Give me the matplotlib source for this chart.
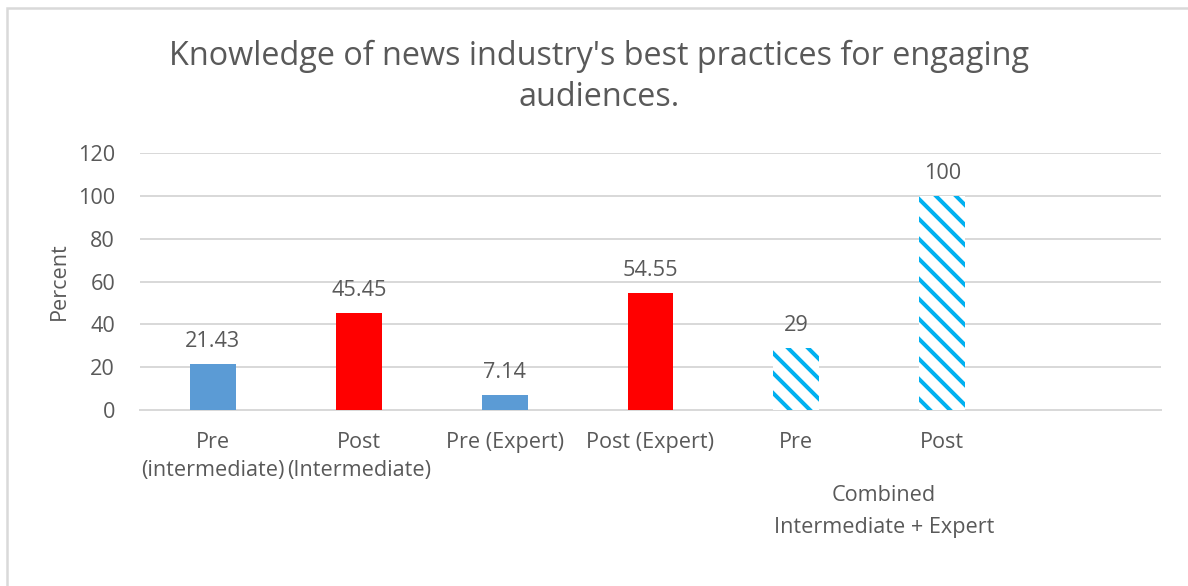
import matplotlib.pyplot as plt
from matplotlib.patches import Rectangle

plt.rcParams['font.family'] = ['Open Sans', 'DejaVu Sans']
plt.rcParams['hatch.linewidth'] = 2.4

# chart data
categories = ['Pre\n(intermediate)', 'Post\n(Intermediate)', 'Pre (Expert)',
              'Post (Expert)', 'Pre', 'Post', '']
values = [21.43, 45.45, 7.14, 54.55, 29, 100]
labels = ['21.43', '45.45', '7.14', '54.55', '29', '100']
group_label = 'Combined\nIntermediate + Expert'

blue = '#5B9BD5'
red = '#FF0000'
cyan = '#00B0F0'
text_col = '#595959'
grid_col = '#D9D9D9'
fs = 13

fig = plt.figure(figsize=(9.9, 586 / 120), dpi=120)
ax = fig.add_axes([140 / 1188, 1 - 410 / 586, 1021 / 1188, 257 / 586])

x = list(range(len(categories)))
w = 0.315
# solid bars
ax.bar(x[0], values[0], w, color=blue, zorder=3)
ax.bar(x[1], values[1], w, color=red, zorder=3)
ax.bar(x[2], values[2], w, color=blue, zorder=3)
ax.bar(x[3], values[3], w, color=red, zorder=3)
# hatched combined bars
for i in (4, 5):
    ax.bar(x[i], values[i], w, color='white', edgecolor=cyan, hatch='\\\\',
           linewidth=0, zorder=3)

for i, v in enumerate(values):
    ax.text(x[i], v + 5.5, labels[i], ha='center', va='bottom',
            fontsize=fs, color=text_col)

ax.set_xlim(-0.5, len(categories) - 0.5)
ax.set_ylim(0, 120)
ax.set_yticks(range(0, 121, 20))
ax.set_xticks(x)
ax.set_xticklabels(categories, fontsize=fs, color=text_col, linespacing=1.45)
ax.tick_params(axis='y', labelsize=fs, labelcolor=text_col, length=0, pad=15)
ax.tick_params(axis='x', length=0, pad=13)
ax.grid(axis='y', color=grid_col, linewidth=1.2, zorder=0)
for s in ['top', 'right', 'left']:
    ax.spines[s].set_visible(False)
ax.spines['bottom'].set_color(grid_col)
ax.spines['bottom'].set_linewidth(1.2)

ax.set_ylabel('Percent', fontsize=fs, color=text_col, labelpad=5)

ax.text(4.6, -0.395, group_label, transform=ax.get_xaxis_transform(),
        ha='center', va='center', fontsize=fs, color=text_col, linespacing=1.65)

fig.text(0.504, 1 - 77 / 586, "Knowledge of news industry's best practices for engaging\naudiences.",
         ha='center', va='center', fontsize=19.4, color=text_col, linespacing=1.3)

# chart border
fig.patches.append(Rectangle((7 / 1188, -0.1), 1.2, 1 - 8 / 586 + 0.1,
                             transform=fig.transFigure, fill=False,
                             edgecolor=grid_col, linewidth=1.5))

fig.savefig('out.png', dpi=120, facecolor='white')
